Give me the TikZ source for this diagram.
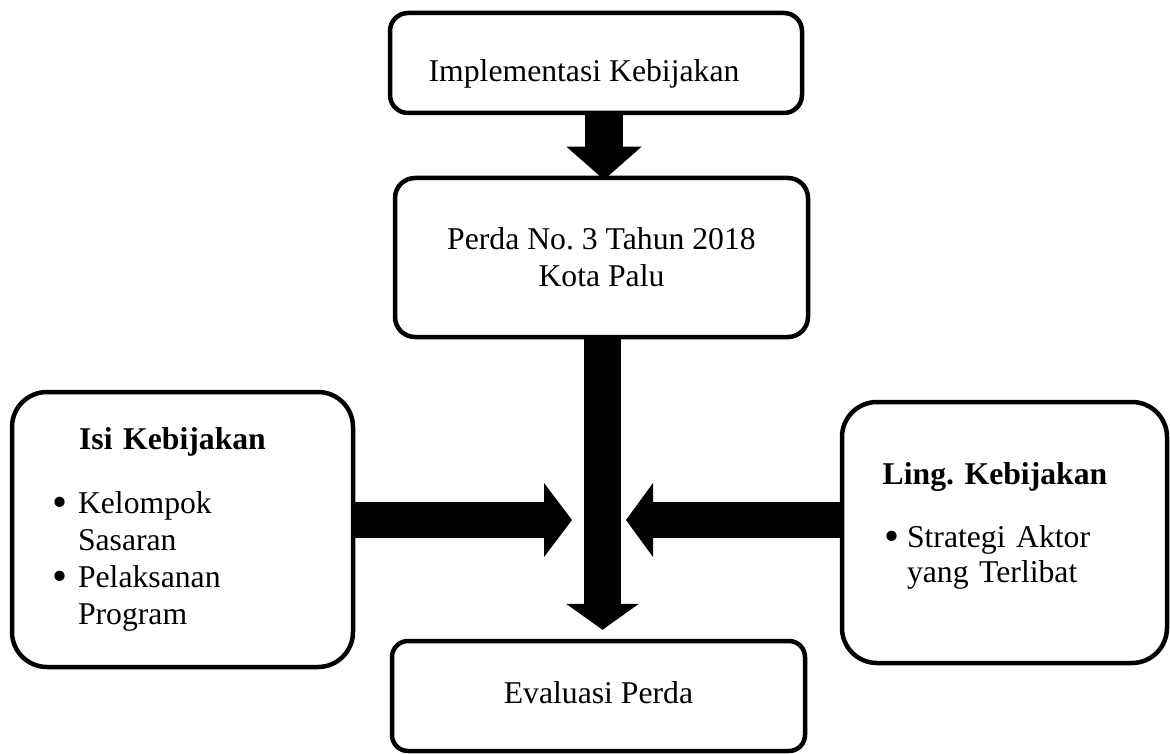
\documentclass[tikz,border=0pt]{standalone}
\usepackage{fontspec}
\usepackage{graphicx}
\setmainfont{Liberation Serif}
\usetikzlibrary{arrows.meta, positioning}

\newcommand{\butir}[1]{\makebox[#1][l]{\hspace*{-3pt}\raisebox{-3pt}{\scalebox{1.35}{\textbullet}}}}

\begin{document}
\begin{tikzpicture}[
    x=1pt, y=-1pt,
    box/.style={draw, line width=4.5pt, inner sep=0pt, align=center,
        font=\fontsize{31.7}{37}\selectfont},
    sidebox/.style={box, rounded corners=35pt, align=left,
        execute at begin node=\setlength{\parindent}{0pt}},
    bigarrow/.style={draw, line width=#1}
]
    \useasboundingbox (0,0) rectangle (1170,754);

    % Alur utama (kolom tengah)
    \node[box, rounded corners=18pt, minimum width=412pt, minimum height=100pt,
        text height=38pt, text depth=0pt] (impl) at (596,63) {Implementasi Kebijakan\hspace*{24pt}};
    \node[box, rounded corners=20pt, minimum width=413pt, minimum height=159pt,
        below=60.5pt of impl, xshift=5.5pt] (perda) {Perda No.\ 3 Tahun 2018\\Kota Palu};
    \node[box, rounded corners=16pt, minimum width=413pt, minimum height=110pt,
        text height=21.6pt, text depth=7pt, below=299.5pt of perda, xshift=-3pt] (eval) {Evaluasi Perda};

    % Kotak samping
    \node[sidebox, minimum width=341pt, minimum height=275pt, text width=255pt] (isi) at (182.5,529.5) {%
        {\centering\bfseries\makebox[0pt]{Isi Kebijakan\hspace{20pt}}\par}\vspace{27pt}
        \butir{23pt}Kelompok\\
        \hspace*{23pt}Sasaran\\
        \butir{23pt}Pelaksanan\\
        \hspace*{23pt}Program};
    \node[sidebox, minimum width=325pt, minimum height=261pt, text width=235pt,
        text height=21.6pt, text depth=118.6pt] (ling) at (1004.5,532.5) {%
        {\centering\bfseries\makebox[0pt]{Ling.\ Kebijakan\hspace{19pt}}\par}\vspace{26pt}
        \butir{20pt}Strategi Aktor\\[-2pt]
        \hspace*{20pt}yang Terlibat};

    % Titik temu panah samping
    \coordinate (hitL) at (572,520);
    \coordinate (hitR) at (626,520);

    % Panah
    \draw[bigarrow=38pt, -{Triangle[length=33pt, width=75pt, line width=0pt]}, shorten >=-4pt]
        ([xshift=8pt]impl.south) -- ([xshift=2.5pt]perda.north);
    \draw[bigarrow=37pt, -{Triangle[length=26pt, width=73pt, line width=0pt]}, shorten >=9pt]
        ([xshift=1pt]perda.south) -- ([xshift=4pt]eval.north);
    \draw[bigarrow=36pt, -{Triangle[length=28pt, width=74pt, line width=0pt]}] (isi.east |- hitL) -- (hitL);
    \draw[bigarrow=36pt, -{Triangle[length=27pt, width=74pt, line width=0pt]}] (ling.west |- hitR) -- (hitR);

\end{tikzpicture}
\end{document}
